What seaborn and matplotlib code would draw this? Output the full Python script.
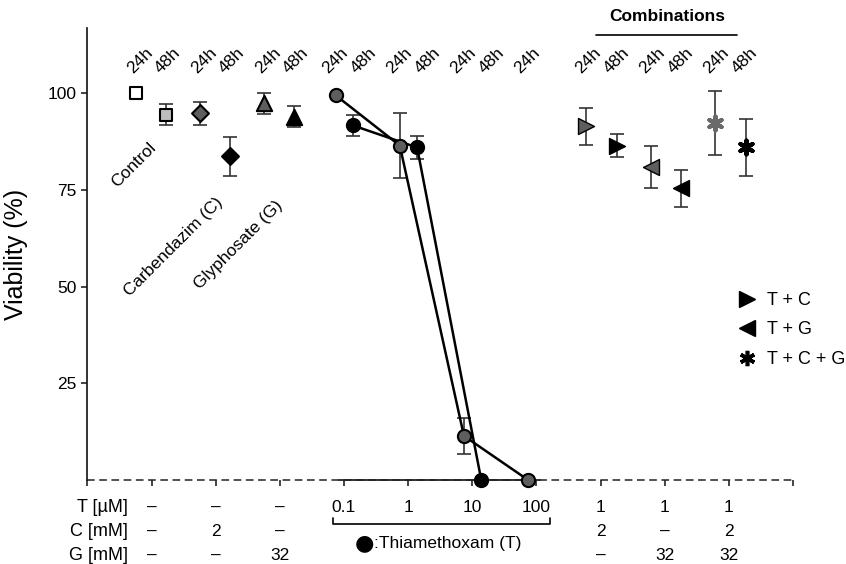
import numpy as np
import pandas as pd
import matplotlib
matplotlib.use("Agg")
import matplotlib.pyplot as plt
import seaborn as sns
from matplotlib.lines import Line2D

# ---------------- data ----------------
single_groups = ["Control", "Carbendazim (C)", "Glyphosate (G)"]
single_24h = [100.0, 94.8, 97.4]
single_24h_err = [0.0, 2.9, 2.8]
single_48h = [94.5, 83.7, 94.0]
single_48h_err = [2.8, 5.0, 2.7]

thia_dose_24h = [0.1, 1, 10, 100]
thia_24h = [99.5, 86.5, 11.4, 0.0]
thia_24h_err = [0.0, 8.3, 4.6, 0.0]
thia_dose_48h = [0.1, 1, 10]
thia_48h = [91.7, 86.0, 0.0]
thia_48h_err = [2.7, 2.9, 0.0]

combo_groups = ["T + C", "T + G", "T + C + G"]
combo_24h = [91.5, 80.9, 92.4]
combo_24h_err = [4.8, 5.4, 8.3]
combo_48h = [86.5, 75.4, 86.0]
combo_48h_err = [2.9, 4.7, 7.3]

row_labels = ["T [µM]", "C [mM]", "G [mM]"]
single_T = ["–", "–", "–"]
single_C = ["–", "2", "–"]
single_G = ["–", "–", "32"]
thia_tick_labels = ["0.1", "1", "10", "100"]
thia_tick_doses = [0.1, 1, 10, 100]
combo_T = ["1", "1", "1"]
combo_C = ["2", "–", "2"]
combo_G = ["–", "32", "32"]
y_ticks = [25, 50, 75, 100]

# ---------------- style ----------------
sns.set_style("ticks")
plt.rcParams['font.family'] = ['Liberation Sans', 'DejaVu Sans']
plt.rcParams['axes.linewidth'] = 1.2
plt.rcParams['text.color'] = 'black'
plt.rcParams['axes.labelcolor'] = 'black'
plt.rcParams['axes.edgecolor'] = '#111111'
plt.rcParams['xtick.color'] = '#111111'
plt.rcParams['ytick.color'] = '#111111'
plt.rcParams['xtick.labelcolor'] = 'black'
plt.rcParams['ytick.labelcolor'] = 'black'

GRAY = "#5e5e5e"
LIGHT = "#bdbdbd"
ECOL = "#333333"

fig = plt.figure(figsize=(8.46, 5.64), dpi=100)
W, H = 846, 564
ax = fig.add_axes([87.4 / W, 1 - 480 / H, (793 - 87.4) / W, (480 - 28) / H])
ax.set_xlim(0, 11)
ax.set_ylim(0, 116.9)


def thia_x(d):
    return 5 + np.log10(d)


def errbar(x, y, e):
    if e > 0:
        ax.errorbar([x], [y], yerr=[e], fmt='none', ecolor=ECOL, elinewidth=1.2,
                    capsize=5, capthick=1.2, zorder=2, clip_on=False)


def point(x, y, marker, face, ms, edge='black', lw=1.5):
    sns.scatterplot(x=[x], y=[y], marker=marker, s=ms ** 2, color=face,
                    edgecolor=edge, linewidth=lw, ax=ax, zorder=4,
                    clip_on=False, legend=False)


LAB_Y = 108.5


def time_label(x, txt):
    ax.text(x, LAB_Y, txt, rotation=45, ha='center', va='center',
            rotation_mode='anchor', fontsize=12.5)


# ---- single treatments ----
single_markers = ['s', 'D', '^']
single_ms = [8.6, 8.6, 11]
face24 = ['white', GRAY, GRAY]
face48 = [LIGHT, 'black', 'black']
for i in range(3):
    c = i + 1
    x24, x48 = c - 0.25, c + 0.22
    errbar(x24, single_24h[i], single_24h_err[i])
    errbar(x48, single_48h[i], single_48h_err[i])
    point(x24, single_24h[i], single_markers[i], face24[i], single_ms[i])
    point(x48, single_48h[i], single_markers[i], face48[i], single_ms[i])
    time_label(c - 0.18, "24h")
    time_label(c + 0.25, "48h")

# ---- thiamethoxam dose response ----
tx24 = [thia_x(d) - 0.13 for d in thia_dose_24h]
tx48 = [thia_x(d) + 0.14 for d in thia_dose_48h]
df24 = pd.DataFrame({"x": tx24, "y": thia_24h})
df48 = pd.DataFrame({"x": tx48, "y": thia_48h})
sns.lineplot(data=df24, x="x", y="y", color='black', linewidth=1.8, ax=ax,
             zorder=3, clip_on=False, legend=False)
sns.lineplot(data=df48, x="x", y="y", color='black', linewidth=1.8, ax=ax,
             zorder=3, clip_on=False, legend=False)
for x, y, e in zip(tx24, thia_24h, thia_24h_err):
    errbar(x, y, e)
    point(x, y, 'o', GRAY, 9.5)
for x, y, e in zip(tx48, thia_48h, thia_48h_err):
    errbar(x, y, e)
    point(x, y, 'o', 'black', 9.5)
for d in thia_tick_doses:
    time_label(thia_x(d) - 0.14, "24h")
    if d in thia_dose_48h:
        time_label(thia_x(d) + 0.3, "48h")

# ---- combinations ----
combo_markers = ['>', '<', (6, 2, 0)]
for i in range(3):
    c = 8 + i
    x24, x48 = c - 0.22, c + 0.26
    errbar(x24, combo_24h[i], combo_24h_err[i])
    errbar(x48, combo_48h[i], combo_48h_err[i])
    if i < 2:
        point(x24, combo_24h[i], combo_markers[i], GRAY, 11.5, edge='black', lw=1.0)
        point(x48, combo_48h[i], combo_markers[i], 'black', 11.5, edge='black', lw=1.0)
    else:
        sns.scatterplot(x=[x24], y=[combo_24h[i]], marker=combo_markers[i], s=100,
                        color='#6a6a6a', linewidth=3.0, ax=ax, zorder=4, legend=False)
        sns.scatterplot(x=[x48], y=[combo_48h[i]], marker=combo_markers[i], s=100,
                        color='black', linewidth=3.0, ax=ax, zorder=4, legend=False)
    time_label(c - 0.19, "24h")
    time_label(c + 0.25, "48h")

# ---- axes ----
for s in ['top', 'right', 'bottom']:
    ax.spines[s].set_visible(False)
ax.set_yticks(y_ticks)
ax.set_yticklabels([str(v) for v in y_ticks], fontsize=12.5)
ax.set_xticks(list(range(0, 12)))
ax.set_xticklabels([])
ax.set_xlabel("")
ax.tick_params(axis='both', direction='out', length=4, width=1.1)
ax.tick_params(axis='y', pad=4)
ax.set_ylabel("Viability (%)", fontsize=18, labelpad=14)

# baseline: dashed outside thiamethoxam range, solid inside
ax.plot([0, 11], [0, 0], color='#222222', lw=1.1, ls=(0, (5, 3)), clip_on=False, zorder=1)
ax.plot([thia_x(0.1) - 0.07, thia_x(100) + 0.05], [0, 0], color='#222222', lw=1.3,
        clip_on=False, zorder=1)

# group names
ax.text(0.73, 81.6, single_groups[0], rotation=45, ha='center', va='center',
        rotation_mode='anchor', fontsize=12.5)
ax.text(1.34, 60.3, single_groups[1], rotation=45, ha='center', va='center',
        rotation_mode='anchor', fontsize=12.5)
ax.text(2.36, 60.8, single_groups[2], rotation=45, ha='center', va='center',
        rotation_mode='anchor', fontsize=12.5)

# Combinations header
ax.text(9.04, 119.8, "Combinations", ha='center', va='center', fontsize=12.5,
        fontweight='bold')
ax.plot([7.93, 10.13], [115.1, 115.1], color='black', lw=1.2, clip_on=False)

# bottom table
row_y = [-7.0, -13.4, -19.4]
for lab, yy in zip(row_labels, row_y):
    ax.text(0.63, yy, lab, ha='right', va='center', fontsize=13)
for col, (t, cc, g) in enumerate(zip(single_T, single_C, single_G)):
    for v, yy in zip((t, cc, g), row_y):
        ax.text(col + 1, yy, v, ha='center', va='center', fontsize=12.5)
for d, lab in zip(thia_tick_doses, thia_tick_labels):
    ax.text(thia_x(d), row_y[0], lab, ha='center', va='center', fontsize=12.5)
for col, (t, cc, g) in enumerate(zip(combo_T, combo_C, combo_G)):
    for v, yy in zip((t, cc, g), row_y):
        ax.text(col + 8, yy, v, ha='center', va='center', fontsize=12.5)

# bracket under thiamethoxam doses
ax.plot([3.83, 3.83, 7.21, 7.21], [-9.9, -11.4, -11.4, -9.9], color='black', lw=1.2,
        clip_on=False)
ax.text(4.32, -16.3, "●", ha='center', va='center', fontsize=16,
        family=['DejaVu Sans'])
ax.text(4.47, -16.3, ":Thiamethoxam (T)", ha='left', va='center', fontsize=12.5)

# legend
handles = [
    Line2D([], [], marker='>', color='black', ls='', ms=12),
    Line2D([], [], marker='<', color='black', ls='', ms=12),
    Line2D([], [], marker=(6, 2, 0), color='black', ls='', ms=11, mew=2.6),
]
leg = ax.legend(handles, combo_groups, loc='center left', frameon=False,
                bbox_to_anchor=(738 / W, 1 - 330 / H), bbox_transform=fig.transFigure,
                fontsize=13, handlelength=1.0, handletextpad=0.6, labelspacing=0.7,
                borderpad=0, borderaxespad=0)

fig.savefig("out.png", dpi=100)
